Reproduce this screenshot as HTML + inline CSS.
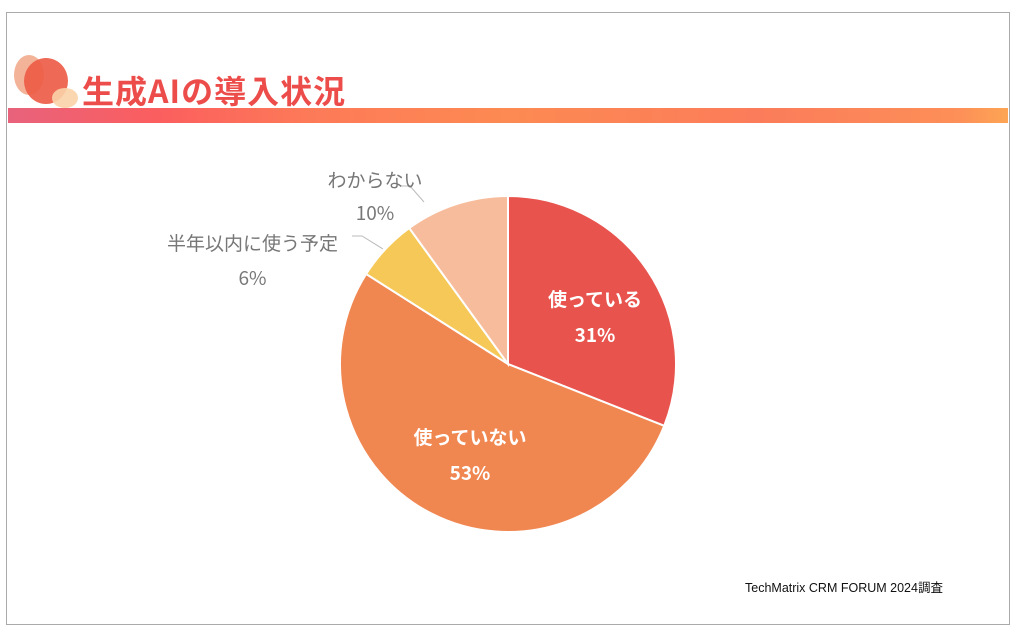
<!DOCTYPE html>
<html><head><meta charset="utf-8"><style>
body{margin:0;width:1017px;height:633px;background:#fff;position:relative;overflow:hidden;font-family:"Liberation Sans","Noto Sans CJK JP",sans-serif}
.frame{position:absolute;left:6px;top:12px;width:1004px;height:613px;border:1px solid #aaa;box-sizing:border-box}
.bar{position:absolute;left:8px;top:108px;width:1000px;height:15px;background:linear-gradient(90deg,#e8627c 0%,#fb5e5e 15%,#fd7a58 30%,#fd8a52 50%,#fb7c5a 75%,#fd8f58 95%,#fda554 100%)}
.title{position:absolute;left:82px;top:70px;font-size:32px;font-weight:bold;color:#ec4d4a;letter-spacing:1px;font-family:"Noto Sans CJK JP",sans-serif;line-height:40px}
.c{position:absolute;border-radius:50%}
.lbl{position:absolute;font-family:"Noto Sans CJK JP",sans-serif;font-size:19px;text-align:center}
.src{position:absolute;left:745px;top:577px;font-size:12.5px;color:#111}
</style></head><body>
<div class="frame"></div>
<div class="c" style="left:14px;top:55px;width:30px;height:40px;background:#f0a080;opacity:.8"></div>
<div class="c" style="left:24px;top:58px;width:44px;height:46px;background:#ec5a44;opacity:.9"></div>
<div class="c" style="left:52px;top:88px;width:26px;height:20px;background:#fbd3a8;opacity:.9"></div>
<div class="bar"></div>
<div class="title">生成AIの導入状況</div>
<svg width="1017" height="633" style="position:absolute;left:0;top:0">
<g id="pie"></g>
<polyline points="383,249 362,236 352,236" fill="none" stroke="#bbb" stroke-width="1"/>
<polyline points="424,202 410,186 400,186" fill="none" stroke="#bbb" stroke-width="1"/>
</svg>
<div class="lbl" style="left:530px;top:281px;width:130px;color:#fff;font-weight:bold;line-height:36px">使っている<br>31%</div>
<div class="lbl" style="left:395px;top:419px;width:150px;color:#fff;font-weight:bold;line-height:36px">使っていない<br>53%</div>
<div class="lbl" style="left:145px;top:225px;width:215px;color:#777;line-height:35px">半年以内に使う予定<br>6%</div>
<div class="lbl" style="left:310px;top:163px;width:130px;color:#777;line-height:33px">わからない<br>10%</div>
<div class="src">TechMatrix CRM FORUM 2024調査</div>
<script>
const categories=["使っている","使っていない","半年以内に使う予定","わからない"];
const values=[31,53,6,10];
const colors=["#e8534d","#f08650","#f5c858","#f7bc9c"];
const cx=508,cy=364,r=168;
const g=document.getElementById('pie');
const total=values.reduce((a,b)=>a+b,0);
let a0=-Math.PI/2;
values.forEach((v,i)=>{
  const a1=a0+v/total*2*Math.PI;
  const x0=cx+r*Math.cos(a0),y0=cy+r*Math.sin(a0),x1=cx+r*Math.cos(a1),y1=cy+r*Math.sin(a1);
  const p=document.createElementNS('http://www.w3.org/2000/svg','path');
  p.setAttribute('d',`M${cx},${cy}L${x0},${y0}A${r},${r} 0 ${a1-a0>Math.PI?1:0} 1 ${x1},${y1}Z`);
  p.setAttribute('fill',colors[i]);p.setAttribute('stroke','#fff');p.setAttribute('stroke-width','2');
  
  
  g.appendChild(p);a0=a1;
});
</script>
</body></html>
